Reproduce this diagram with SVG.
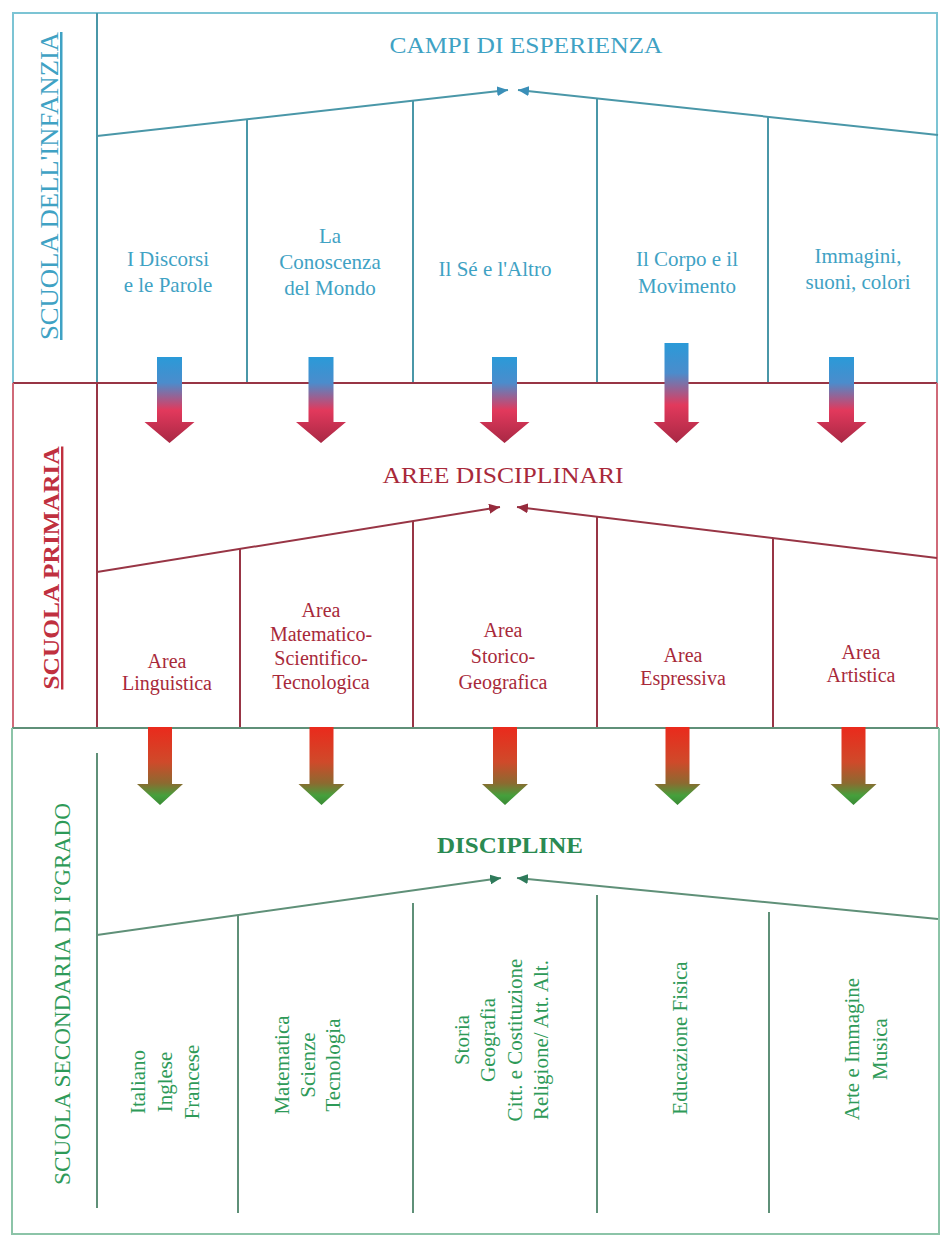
<svg xmlns="http://www.w3.org/2000/svg" width="941" height="1236" viewBox="0 0 941 1236">
<style>
text { font-family: "Liberation Serif", "Times New Roman", serif; }
.tb { fill:#3fa2c4; font-size:21px; text-anchor:middle; }
.tr { fill:#a8293a; font-size:20px; text-anchor:middle; }
.tg { fill:#2e9a58; font-size:21px; text-anchor:middle; }
.lb { stroke:#4a97a8; stroke-width:2; fill:none; }
.lbo { stroke:#7cc4d4; stroke-width:2; fill:none; }
.lr { stroke:#983545; stroke-width:2; fill:none; }
.lro { stroke:#d06a78; stroke-width:2; fill:none; }
.lg { stroke:#5f9078; stroke-width:2; fill:none; }
.lgo { stroke:#8cc4a8; stroke-width:2; fill:none; }
</style>
<defs>
  <linearGradient id="gBR" x1="0" y1="0" x2="0" y2="1">
    <stop offset="0" stop-color="#2a9ad8"/>
    <stop offset="0.3" stop-color="#4b8ccc"/>
    <stop offset="0.62" stop-color="#e2395c"/>
    <stop offset="1" stop-color="#a82844"/>
  </linearGradient>
  <linearGradient id="gRG" x1="0" y1="0" x2="0" y2="1">
    <stop offset="0" stop-color="#ea2a1c"/>
    <stop offset="0.45" stop-color="#cf4a2a"/>
    <stop offset="0.72" stop-color="#8c6a30"/>
    <stop offset="0.88" stop-color="#45a03c"/>
    <stop offset="1" stop-color="#3a8a35"/>
  </linearGradient>
  <path id="ab" d="M-12.5,357 H12.5 V422 H25 L0,443 L-25,422 H-12.5 Z" fill="url(#gBR)"/>
  <path id="ab2" d="M-12,343 H12 V422 H23 L0,443 L-23,422 H-12 Z" fill="url(#gBR)"/>
  <path id="ag" d="M-12,727 H12 V784 H23 L0,805 L-23,784 H-12 Z" fill="url(#gRG)"/>
  <marker id="mB" markerUnits="userSpaceOnUse" markerWidth="12" markerHeight="10" refX="11" refY="5" orient="auto">
    <path d="M0,0 L11,5 L0,10 Z" fill="#3a8fb8"/>
  </marker>
  <marker id="mR" markerUnits="userSpaceOnUse" markerWidth="12" markerHeight="10" refX="11" refY="5" orient="auto">
    <path d="M0,0 L11,5 L0,10 Z" fill="#962a3c"/>
  </marker>
  <marker id="mG" markerUnits="userSpaceOnUse" markerWidth="12" markerHeight="10" refX="11" refY="5" orient="auto">
    <path d="M0,0 L11,5 L0,10 Z" fill="#2e7a5a"/>
  </marker>
</defs>
<rect x="0" y="0" width="941" height="1236" fill="#ffffff"/>

<g id="frames">
  <!-- top section -->
  <path class="lbo" d="M13,383 V13 H937 V383"/>
  <line class="lb" x1="97" y1="13" x2="97" y2="383"/>
  <line class="lb" x1="247" y1="119" x2="247" y2="383"/>
  <line class="lb" x1="413" y1="100" x2="413" y2="383"/>
  <line class="lb" x1="597" y1="98" x2="597" y2="383"/>
  <line class="lb" x1="768" y1="117" x2="768" y2="383"/>
  <!-- primary section -->
  <line class="lr" x1="13" y1="383" x2="937" y2="383"/>
  <line class="lro" x1="13" y1="383" x2="13" y2="728"/>
  <line class="lro" x1="937" y1="383" x2="937" y2="728"/>
  <line class="lr" x1="97" y1="383" x2="97" y2="728"/>
  <line class="lr" x1="240" y1="549" x2="240" y2="728"/>
  <line class="lr" x1="413" y1="521" x2="413" y2="728"/>
  <line class="lr" x1="597" y1="517" x2="597" y2="728"/>
  <line class="lr" x1="773" y1="538" x2="773" y2="728"/>
  <!-- secondary section -->
  <line class="lg" x1="12" y1="728" x2="939" y2="728"/>
  <path class="lgo" d="M12,728 V1234 H939 V728"/>
  <line class="lg" x1="97" y1="753" x2="97" y2="1208"/>
  <line class="lg" x1="238" y1="915" x2="238" y2="1213"/>
  <line class="lg" x1="413" y1="903" x2="413" y2="1213"/>
  <line class="lg" x1="597" y1="895" x2="597" y2="1213"/>
  <line class="lg" x1="769" y1="912" x2="769" y2="1213"/>
</g>

<g id="connectors">
  <line class="lb" x1="97" y1="136" x2="508" y2="90" marker-end="url(#mB)"/>
  <line class="lb" x1="938" y1="135" x2="518" y2="90" marker-end="url(#mB)"/>
  <line class="lr" x1="97" y1="572" x2="500" y2="507" marker-end="url(#mR)"/>
  <line class="lr" x1="937" y1="558" x2="517" y2="507" marker-end="url(#mR)"/>
  <line class="lg" x1="97" y1="935" x2="501" y2="878" marker-end="url(#mG)"/>
  <line class="lg" x1="938" y1="919" x2="517" y2="878" marker-end="url(#mG)"/>
  <use href="#ab" x="169.5"/>
  <use href="#ab" x="321"/>
  <use href="#ab" x="504.5"/>
  <use href="#ab2" x="676.5"/>
  <use href="#ab" x="841.5"/>
  <use href="#ag" x="160"/>
  <use href="#ag" x="321.5"/>
  <use href="#ag" x="505"/>
  <use href="#ag" x="677.5"/>
  <use href="#ag" x="853.5"/>
</g>

<g id="label-infanzia">
  <text transform="translate(58,186) rotate(-90)" text-anchor="middle" font-size="25" fill="#3fa2c4" text-decoration="underline" textLength="308" lengthAdjust="spacingAndGlyphs">SCUOLA DELL'INFANZIA</text>
</g>
<g id="label-primaria">
  <text transform="translate(59,568) rotate(-90)" text-anchor="middle" font-size="24" font-weight="bold" fill="#c0303f" text-decoration="underline" textLength="243" lengthAdjust="spacingAndGlyphs">SCUOLA PRIMARIA</text>
</g>
<g id="label-secondaria">
  <text transform="translate(70,994) rotate(-90)" text-anchor="middle" font-size="23" fill="#2e9a58" textLength="382" lengthAdjust="spacingAndGlyphs">SCUOLA SECONDARIA DI I°GRADO</text>
</g>

<g id="title-campi">
  <text x="526" y="53" text-anchor="middle" font-size="24" fill="#3fa2c4" textLength="273" lengthAdjust="spacingAndGlyphs">CAMPI DI ESPERIENZA</text>
</g>
<g id="title-aree">
  <text x="503" y="483" text-anchor="middle" font-size="24" fill="#a8293a" textLength="241" lengthAdjust="spacingAndGlyphs">AREE DISCIPLINARI</text>
</g>
<g id="title-discipline">
  <text x="510" y="853" text-anchor="middle" font-size="24" font-weight="bold" fill="#2a8a52" textLength="146" lengthAdjust="spacingAndGlyphs">DISCIPLINE</text>
</g>

<g id="campo-1"><text class="tb"><tspan x="168" y="266">I Discorsi</tspan><tspan x="168" y="292">e le Parole</tspan></text></g>
<g id="campo-2"><text class="tb"><tspan x="330" y="243">La</tspan><tspan x="330" y="269">Conoscenza</tspan><tspan x="330" y="295">del Mondo</tspan></text></g>
<g id="campo-3"><text class="tb" x="495" y="276">Il Sé e l'Altro</text></g>
<g id="campo-4"><text class="tb"><tspan x="687" y="266">Il Corpo e il</tspan><tspan x="687" y="293">Movimento</tspan></text></g>
<g id="campo-5"><text class="tb"><tspan x="858" y="263">Immagini,</tspan><tspan x="858" y="289">suoni, colori</tspan></text></g>

<g id="area-1"><text class="tr"><tspan x="167" y="668">Area</tspan><tspan x="167" y="690">Linguistica</tspan></text></g>
<g id="area-2"><text class="tr"><tspan x="321" y="617">Area</tspan><tspan x="321" y="641">Matematico-</tspan><tspan x="321" y="665">Scientifico-</tspan><tspan x="321" y="689">Tecnologica</tspan></text></g>
<g id="area-3"><text class="tr"><tspan x="503" y="637">Area</tspan><tspan x="503" y="663">Storico-</tspan><tspan x="503" y="689">Geografica</tspan></text></g>
<g id="area-4"><text class="tr"><tspan x="683" y="662">Area</tspan><tspan x="683" y="685">Espressiva</tspan></text></g>
<g id="area-5"><text class="tr"><tspan x="861" y="659">Area</tspan><tspan x="861" y="682">Artistica</tspan></text></g>

<g id="disc-1"><text class="tg" transform="translate(145,1082) rotate(-90)"><tspan x="0" y="0">Italiano</tspan><tspan x="0" dy="27">Inglese</tspan><tspan x="0" dy="27">Francese</tspan></text></g>
<g id="disc-2"><text class="tg" transform="translate(289,1065) rotate(-90)"><tspan x="0" y="0">Matematica</tspan><tspan x="0" dy="26">Scienze</tspan><tspan x="0" dy="25">Tecnologia</tspan></text></g>
<g id="disc-3"><text class="tg" transform="translate(469,1040) rotate(-90)"><tspan x="0" y="0">Storia</tspan><tspan x="0" dy="26">Geografia</tspan><tspan x="0" dy="26.5">Citt. e Costituzione</tspan><tspan x="0" dy="26.5">Religione/ Att. Alt.</tspan></text></g>
<g id="disc-4"><text class="tg" transform="translate(687,1038) rotate(-90)">Educazione Fisica</text></g>
<g id="disc-5"><text class="tg" transform="translate(859,1049) rotate(-90)"><tspan x="0" y="0">Arte e Immagine</tspan><tspan x="0" dy="28">Musica</tspan></text></g>
</svg>
